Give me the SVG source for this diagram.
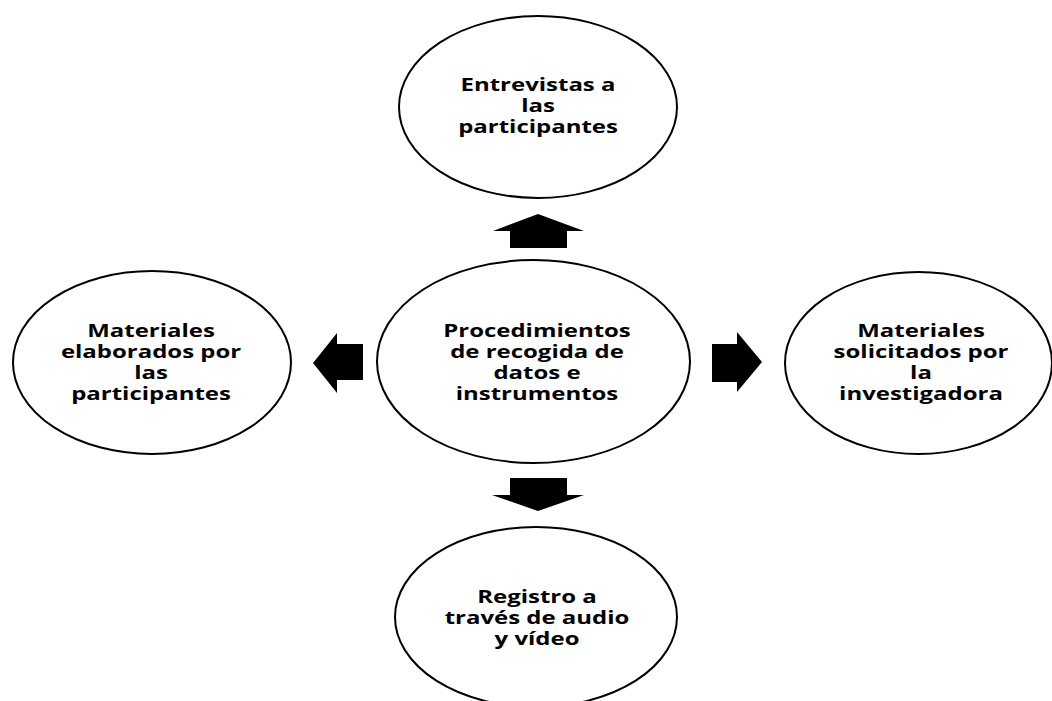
<svg xmlns="http://www.w3.org/2000/svg" width="1052" height="701" viewBox="0 0 1052 701">
<style>
.node{fill:#fff;stroke:#000;stroke-width:2}
.lbl{font-family:"Open Sans","DejaVu Sans",sans-serif;font-weight:bold;font-size:17px;fill:#000;text-anchor:middle}
.arr{fill:#000}
</style>
<rect width="1052" height="701" fill="#fff"/>
<g id="connectors">
<polygon class="arr" points="538,214 584,231 567,231 567,248 510,248 510,231 493,231"/>
<polygon class="arr" points="538,511 584,495 567,495 567,478 510,478 510,495 492,495"/>
<polygon class="arr" points="313,363 337,333 337,344 363,344 363,380 337,380 337,393"/>
<polygon class="arr" points="762,362 737,332 737,344 712,344 712,382 737,382 737,392"/>
</g>
<g id="n-top">
<ellipse class="node" cx="538" cy="107" rx="139" ry="91"/>
<g transform="translate(538 0) scale(1.41 1)">
<text class="lbl" x="0" y="91">Entrevistas a</text>
<text class="lbl" x="0" y="112">las</text>
<text class="lbl" x="0" y="133">participantes</text>
</g>
</g>
<g id="n-center">
<ellipse class="node" cx="533.5" cy="361.5" rx="156.5" ry="101.5"/>
<g transform="translate(537 0) scale(1.41 1)">
<text class="lbl" x="0" y="337">Procedimientos</text>
<text class="lbl" x="0" y="358">de recogida de</text>
<text class="lbl" x="0" y="379">datos e</text>
<text class="lbl" x="0" y="400">instrumentos</text>
</g>
</g>
<g id="n-left">
<ellipse class="node" cx="152" cy="362.5" rx="139" ry="91.5"/>
<g transform="translate(151 0) scale(1.41 1)">
<text class="lbl" x="0" y="337">Materiales</text>
<text class="lbl" x="0" y="358">elaborados por</text>
<text class="lbl" x="0" y="379">las</text>
<text class="lbl" x="0" y="400">participantes</text>
</g>
</g>
<g id="n-right">
<ellipse class="node" cx="918.5" cy="363" rx="133.5" ry="91"/>
<g transform="translate(921 0) scale(1.41 1)">
<text class="lbl" x="0" y="337">Materiales</text>
<text class="lbl" x="0" y="358">solicitados por</text>
<text class="lbl" x="0" y="379">la</text>
<text class="lbl" x="0" y="400">investigadora</text>
</g>
</g>
<g id="n-bottom">
<ellipse class="node" cx="536" cy="617" rx="141" ry="90"/>
<g transform="translate(537 0) scale(1.41 1)">
<text class="lbl" x="0" y="603">Registro a</text>
<text class="lbl" x="0" y="624">través de audio</text>
<text class="lbl" x="0" y="645">y vídeo</text>
</g>
</g>
</svg>
